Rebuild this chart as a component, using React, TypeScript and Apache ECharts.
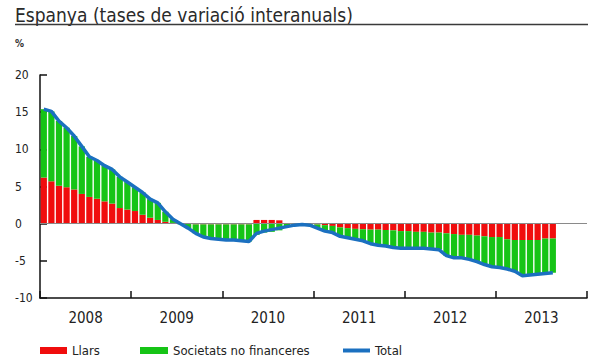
import React, { useEffect, useRef } from "react";
import * as echarts from "echarts";

const years = ["2008", "2009", "2010", "2011", "2012", "2013"];
const monthCodes = ["01", "02", "03", "04", "05", "06", "07", "08", "09", "10", "11", "12"];
const months = years.flatMap((y) => monthCodes.map((m) => `${y}-${m}`));

const yTicks = { min: -10, max: 20, interval: 5 };

// Llars (households) contribution, Jan 2008 - Aug 2013
const llars = [
  6.2, 5.7, 5.1, 4.9, 4.6, 4.0, 3.6, 3.35, 3.0, 2.7, 2.1, 1.9,
  1.7, 1.2, 0.8, 0.5, 0.25, 0.1, 0.0, -0.05, -0.1, -0.1, -0.1, -0.1,
  -0.1, -0.1, -0.1, -0.1, 0.5, 0.5, 0.5, 0.45, 0.0, 0.0, 0.0, 0.0,
  -0.1, -0.2, -0.3, -0.5, -0.6, -0.7, -0.75, -0.8, -0.8, -0.85, -0.9, -1.0,
  -1.0, -1.1, -1.1, -1.2, -1.2, -1.3, -1.4, -1.5, -1.5, -1.6, -1.7, -1.8,
  -1.8, -2.1, -2.2, -2.2, -2.2, -2.2, -2.0, -2.0,
];

// Societats no financeres (non-financial corporations) contribution
const societats = [
  9.2, 9.4, 8.7, 8.0, 7.2, 6.4, 5.4, 5.1, 4.8, 4.6, 4.2, 3.7,
  3.2, 3.0, 2.5, 2.3, 1.35, 0.5, -0.1, -0.55, -1.2, -1.7, -1.9, -2.0,
  -2.1, -2.1, -2.2, -2.3, -1.5, -1.2, -1.1, -0.9, -0.4, -0.2, -0.1, -0.15,
  -0.5, -0.8, -0.9, -1.2, -1.3, -1.4, -1.55, -1.9, -2.1, -2.15, -2.3, -2.3,
  -2.3, -2.2, -2.2, -2.2, -2.3, -3.0, -3.2, -3.1, -3.3, -3.5, -3.8, -4.0,
  -4.1, -4.0, -4.2, -4.8, -4.7, -4.6, -4.7, -4.6,
];

const total = [
  15.4, 15.1, 13.8, 12.9, 11.8, 10.4, 9.0, 8.5, 7.8, 7.3, 6.3, 5.6,
  4.9, 4.2, 3.3, 2.8, 1.6, 0.6, 0.0, -0.6, -1.3, -1.8, -2.0, -2.1,
  -2.2, -2.2, -2.3, -2.4, -1.3, -1.0, -0.8, -0.6, -0.4, -0.2, -0.1, -0.2,
  -0.6, -1.0, -1.2, -1.7, -1.9, -2.1, -2.3, -2.7, -2.9, -3.0, -3.2, -3.3,
  -3.3, -3.3, -3.3, -3.4, -3.5, -4.3, -4.6, -4.6, -4.8, -5.1, -5.5, -5.8,
  -5.9, -6.1, -6.4, -7.0, -6.9, -6.8, -6.7, -6.6,
];

const seriesNames = ["Llars", "Societats no financeres", "Total"];
const colors = { llars: "#f00d0d", societats: "#16c416", total: "#1b70c0" };

const FONT = "'DejaVu Sans Condensed', 'Liberation Sans', sans-serif";

export default function App() {
  const ref = useRef<HTMLDivElement>(null);

  useEffect(() => {
    if (!ref.current) return;
    const chart = echarts.init(ref.current, undefined, { renderer: "svg" });
    const legendBase = {
      top: 344,
      padding: 0,
      icon: "rect",
      itemWidth: 27,
      itemHeight: 7,
      textStyle: { fontSize: 13, color: "#222", fontFamily: FONT },
    };
    chart.setOption({
      animation: false,
      backgroundColor: "#ffffff",
      textStyle: { fontFamily: FONT },
      grid: { left: 40, right: 16, top: 75, bottom: 64, containLabel: false },
      graphic: [
        {
          type: "text",
          left: 15,
          top: 5,
          style: { text: "Espanya (tases de variació interanuals)", fontSize: 19, fill: "#2a2a2a", fontFamily: FONT },
        },
        {
          type: "line",
          shape: { x1: 15, y1: 24.5, x2: 588, y2: 24.5 },
          style: { stroke: "#3a3a3a", lineWidth: 1.5 },
        },
        {
          type: "text",
          left: 15,
          top: 38,
          style: { text: "%", fontSize: 10, fontWeight: "bold", fill: "#333", fontFamily: FONT },
        },
      ],
      legend: [
        { ...legendBase, data: [seriesNames[0]], left: 40 },
        { ...legendBase, data: [seriesNames[1]], left: 140, itemWidth: 28 },
        { ...legendBase, data: [seriesNames[2]], left: 343, itemHeight: 4 },
      ],
      xAxis: [
        {
          type: "category",
          data: months,
          show: false,
          boundaryGap: true,
        },
        {
          type: "category",
          data: years,
          position: "bottom",
          boundaryGap: true,
          axisLine: { show: true, onZero: false, lineStyle: { color: "#111", width: 1.5 } },
          axisTick: { show: true, inside: true, length: 7, lineStyle: { color: "#111", width: 1.5 } },
          axisLabel: { fontSize: 15, color: "#222", margin: 12, fontFamily: FONT },
          splitLine: { show: false },
        },
      ],
      yAxis: {
        type: "value",
        min: yTicks.min,
        max: yTicks.max,
        interval: yTicks.interval,
        axisLine: { show: true, lineStyle: { color: "#111", width: 1.5 } },
        axisTick: { show: true, inside: true, length: 7, lineStyle: { color: "#111", width: 1.5 } },
        axisLabel: { align: "left", margin: 25, fontSize: 12, color: "#222", fontFamily: FONT },
        splitLine: { show: false },
      },
      series: [
        {
          name: seriesNames[0],
          type: "bar",
          stack: "contrib",
          xAxisIndex: 0,
          data: llars,
          itemStyle: { color: colors.llars },
          barCategoryGap: "18%",
          markLine: {
            silent: true,
            symbol: ["none", "none"],
            label: { show: false },
            lineStyle: { color: "#8a8a8a", width: 1.2, type: "solid" },
            data: [{ yAxis: 0 }],
          },
        },
        {
          name: seriesNames[1],
          type: "bar",
          stack: "contrib",
          xAxisIndex: 0,
          data: societats,
          itemStyle: { color: colors.societats },
          barCategoryGap: "18%",
        },
        {
          name: seriesNames[2],
          type: "line",
          xAxisIndex: 0,
          data: total,
          showSymbol: false,
          symbol: "none",
          lineStyle: { color: colors.total, width: 3.5 },
          itemStyle: { color: colors.total },
          z: 5,
        },
      ],
    });
    return () => chart.dispose();
  }, []);

  return <div ref={ref} style={{ width: 603, height: 362, position: "absolute", left: 0, top: 0 }} />;
}
